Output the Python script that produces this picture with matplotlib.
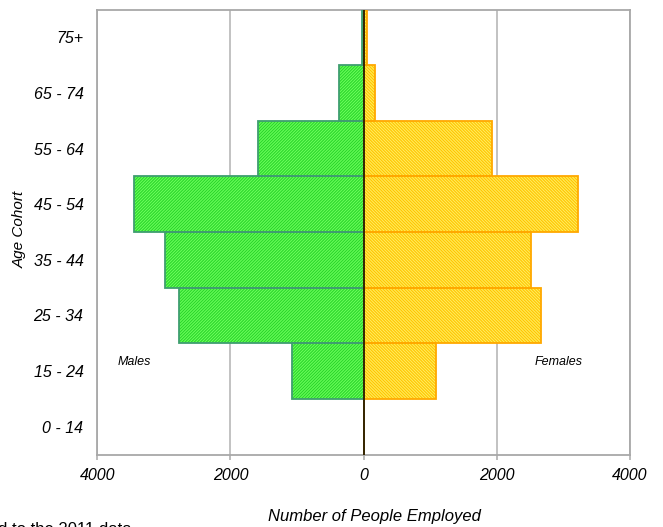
import matplotlib
matplotlib.use('Agg')
import matplotlib.pyplot as plt
import numpy as np

plt.rcParams['font.family'] = ['Liberation Sans', 'DejaVu Sans']
plt.rcParams['hatch.linewidth'] = 0.8

age_groups = ['0 - 14', '15 - 24', '25 - 34', '35 - 44', '45 - 54', '55 - 64', '65 - 74', '75+']
males = [0, 1080, 2775, 2985, 3450, 1590, 375, 30]
females = [0, 1080, 2670, 2520, 3225, 1935, 165, 55]
x_ticks = [-4000, -2000, 0, 2000, 4000]
x_tick_labels = ['4000', '2000', '0', '2000', '4000']

W, H = 663, 527
fig = plt.figure(figsize=(W / 100, H / 100), dpi=100)
left, right, top, bottom = 97.3, 630.0, 9.5, 454.5
ax = fig.add_axes([left / W, 1 - bottom / H, (right - left) / W, (bottom - top) / H])

y = np.arange(len(age_groups))
neg_m = [-v for v in males]

# hatched fills
ax.barh(y, neg_m, height=1.0, color='#6cff5c', hatch='/' * 11,
        edgecolor='#2bd62b', linewidth=0, zorder=2)
ax.barh(y, females, height=1.0, color='#ffee60', hatch='\\' * 11,
        edgecolor='#ffc400', linewidth=0, zorder=2)
# outlines
ax.barh(y, neg_m, height=1.0, color='none', edgecolor='#3f9e70', linewidth=1.3, zorder=3)
ax.barh(y, females, height=1.0, color='none', edgecolor='#ffa800', linewidth=1.3, zorder=3)

ax.axvline(0, color='black', linewidth=1.1, zorder=4)

ax.set_xlim(-4000, 4000)
ax.set_ylim(-0.5, len(age_groups) - 0.5)
ax.set_xticks(x_ticks)
ax.set_xticklabels(x_tick_labels, fontstyle='italic', fontsize=11.5)
ax.set_yticks(y)
ax.set_yticklabels(age_groups, fontstyle='italic', fontsize=11.5)

ax.grid(axis='x', color='#b8b8b8', linewidth=1.2)
ax.grid(axis='y', visible=False)
ax.set_axisbelow(True)

for s in ax.spines.values():
    s.set_color('#a8a8a8')
    s.set_linewidth(1.3)

ax.tick_params(axis='x', direction='out', length=3.5, width=1.1, color='#a8a8a8', pad=6)
ax.tick_params(axis='y', length=0, pad=10)

ax.text(-3690, 1.163, 'Males', fontstyle='italic', fontsize=9, ha='left', va='center')
ax.text(3285, 1.163, 'Females', fontstyle='italic', fontsize=9, ha='right', va='center')

fig.text(19.5 / W, 1 - 229.5 / H, 'Age Cohort', rotation=90, fontstyle='italic',
         fontsize=11, ha='center', va='center')
fig.text(374.5 / W, 1 - 516.5 / H, 'Number of People Employed', fontstyle='italic',
         fontsize=12, ha='center', va='center')
fig.text(-2 / W, -7 / H, 'd to the 2011 data', fontsize=12, ha='left', va='baseline')

fig.savefig('out.png', dpi=100)
